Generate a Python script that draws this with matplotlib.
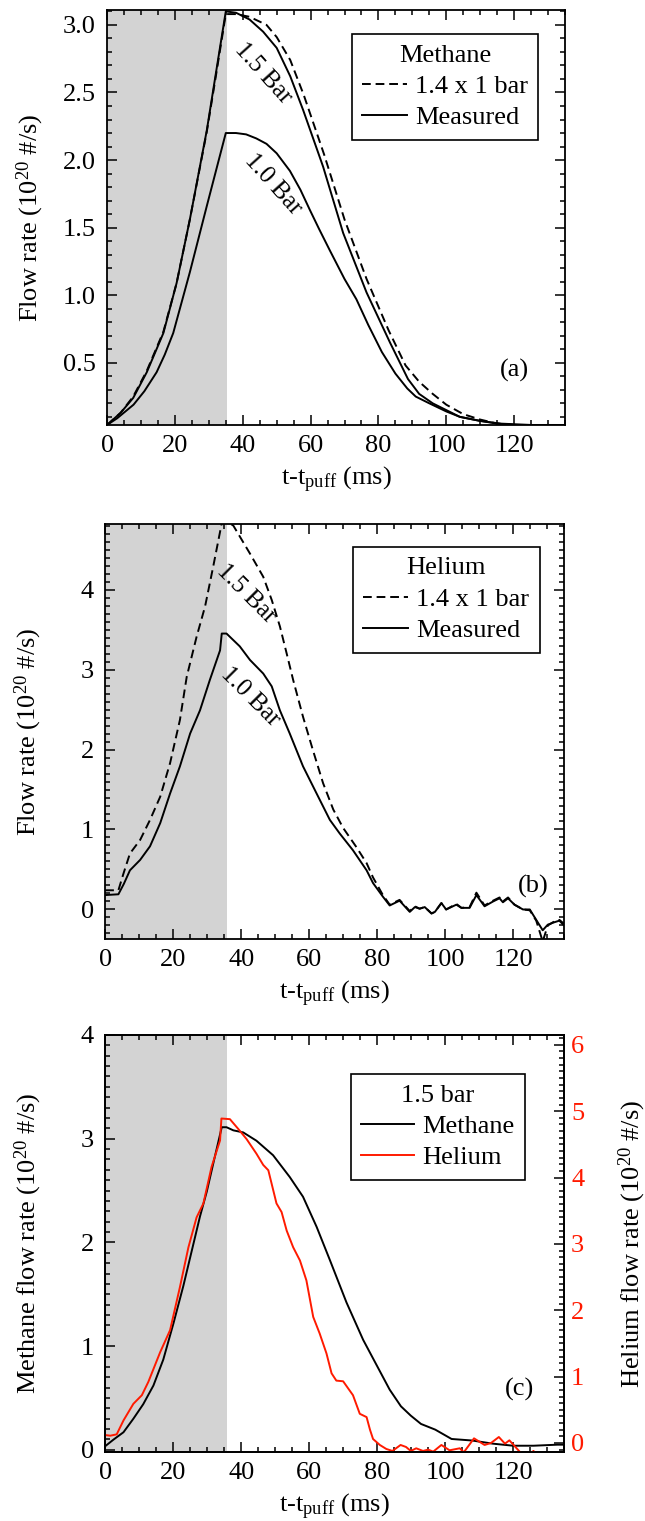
import matplotlib.pyplot as plt
from matplotlib.lines import Line2D
from matplotlib.ticker import MultipleLocator

plt.rcParams['font.family'] = ['Liberation Serif', 'DejaVu Serif']
plt.rcParams['mathtext.fontset'] = 'custom'
plt.rcParams['mathtext.rm'] = 'Liberation Serif'
plt.rcParams['mathtext.it'] = 'Liberation Serif:italic'
plt.rcParams['font.size'] = 19

# (a) methane, flow rate in 1e20 #/s
ch4_t_15 = [0, 4, 7.7, 11.7, 16.6, 20.5, 24.4, 29.4, 32, 35, 38, 42, 46, 50, 54, 57.8, 63.7,
            69.6, 76.5, 83.4, 88.7, 92, 96, 100, 104, 110, 115, 120, 127, 135]
ch4_v_15 = [0.04, 0.13, 0.24, 0.43, 0.72, 1.09, 1.56, 2.22, 2.63, 3.10, 3.09, 3.04, 2.95, 2.83,
            2.62, 2.37, 1.95, 1.46, 1.02, 0.65, 0.38, 0.27, 0.20, 0.15, 0.10, 0.07, 0.05, 0.04,
            0.04, 0.04]
ch4_t_14 = [0, 4, 7.7, 11.7, 16.6, 20.5, 24.4, 29.4, 32, 35, 38, 42, 47, 50, 54, 58, 64, 70,
            76.5, 83, 88, 92, 96, 100, 105, 110, 115, 120, 127, 135]
ch4_v_14 = [0.04, 0.13, 0.25, 0.44, 0.73, 1.09, 1.56, 2.21, 2.61, 3.08, 3.08, 3.06, 3.00, 2.91,
            2.74, 2.48, 2.04, 1.56, 1.12, 0.74, 0.48, 0.36, 0.27, 0.19, 0.12, 0.08, 0.05, 0.04,
            0.04, 0.04]
ch4_t_10 = [0, 3, 7.8, 11, 14.6, 17, 19.5, 24.4, 29.4, 35, 38, 41, 44, 47, 50, 53.9, 57, 59.8,
            62.5, 65.7, 70, 73.5, 77, 81, 85, 88.5, 91, 95, 100, 104, 110, 116, 125, 135]
ch4_v_10 = [0.04, 0.09, 0.19, 0.29, 0.43, 0.56, 0.72, 1.17, 1.66, 2.20, 2.20, 2.19, 2.16, 2.12,
            2.05, 1.92, 1.78, 1.63, 1.49, 1.33, 1.12, 0.97, 0.78, 0.58, 0.42, 0.31, 0.25, 0.20,
            0.14, 0.10, 0.07, 0.05, 0.04, 0.04]

# (b) helium
he_t_10 = [0, 3.9, 5.5, 7.3, 10.3, 13.2, 16.2, 19.1, 22, 25, 27.9, 30.8, 33.8, 34.3, 35.7, 39.6,
           42.6, 46.5, 49, 51.4, 54.3, 58.2, 62.2, 66.1, 69, 72.9, 76.9, 78.8, 81.7, 83.7, 86.6,
           89.6, 91.1, 92.5, 94, 96, 97, 98.9, 100.3, 103.3, 104.8, 107.2, 109.2, 111.6, 114.1,
           116, 117, 118.5, 120.4, 122.9, 124.9, 126.8, 128.7, 130.2, 132.1, 133.6, 135]
he_v_10 = [0.18, 0.19, 0.32, 0.49, 0.62, 0.79, 1.08, 1.45, 1.79, 2.20, 2.49, 2.87, 3.24, 3.45,
           3.45, 3.29, 3.12, 2.95, 2.79, 2.49, 2.20, 1.79, 1.45, 1.12, 0.95, 0.74, 0.49, 0.33,
           0.16, 0.05, 0.11, -0.03, 0.03, 0.01, 0.03, -0.05, -0.03, 0.08, 0.00, 0.06, 0.02, 0.02,
           0.18, 0.04, 0.10, 0.14, 0.09, 0.14, 0.06, 0.00, 0.00, -0.13, -0.26, -0.19, -0.16,
           -0.14, -0.20]
he_t_14 = [0, 3.9, 5.4, 7.3, 10.3, 13.2, 16.2, 19.1, 22, 24, 26.9, 29.4, 31.8, 34.3, 35.5, 37.7,
           42.6, 46.5, 49, 51.4, 53.4, 55.3, 58.2, 61.2, 64.1, 67.1, 70, 73.9, 76.9, 78.8, 81.7,
           83.7, 86.6, 89.6, 91.1, 92.5, 94, 96, 97, 98.9, 100.3, 103.3, 104.8, 107.2, 109.2,
           111.6, 114.1, 116, 117, 118.5, 120.4, 122.9, 124.9, 126.8, 128.7, 130.2, 132.1, 133.6,
           135]
he_v_14 = [0.24, 0.24, 0.45, 0.70, 0.87, 1.12, 1.41, 1.83, 2.37, 2.91, 3.41, 3.79, 4.29, 4.83,
           4.86, 4.80, 4.45, 4.16, 3.87, 3.54, 3.20, 2.87, 2.41, 1.98, 1.58, 1.25, 1.02, 0.78,
           0.58, 0.40, 0.18, 0.06, 0.12, -0.02, 0.04, 0.01, 0.03, -0.05, -0.03, 0.08, 0.00, 0.07,
           0.02, 0.03, 0.21, 0.05, 0.11, 0.15, 0.10, 0.15, 0.06, 0.00, -0.01, -0.14, -0.40,
           -0.20, -0.15, -0.13, -0.18]

# (c) 1.5 bar, methane (left axis) and helium (right axis)
c_ch4_t = [0, 2.5, 5.4, 8.3, 11.2, 14.2, 17.1, 20.1, 23, 26, 27.9, 29.9, 31.8, 34.3, 35.7, 37.7,
           40.6, 44.5, 49.4, 54.3, 58.2, 62.2, 66.1, 71, 75.9, 79.8, 83.7, 87, 89.9, 92.9, 97.1,
           101.9, 108, 114, 120, 126, 133, 135]
c_ch4_v = [0.035, 0.10, 0.17, 0.30, 0.44, 0.62, 0.87, 1.22, 1.58, 1.99, 2.25, 2.49, 2.76, 3.11,
           3.11, 3.08, 3.06, 2.98, 2.84, 2.63, 2.44, 2.15, 1.83, 1.42, 1.06, 0.82, 0.58, 0.42,
           0.33, 0.25, 0.195, 0.105, 0.09, 0.06, 0.04, 0.04, 0.05, 0.05]
c_he_t = [0, 1.5, 3.4, 5.4, 8.3, 10.8, 12.7, 16.2, 19.1, 22, 24.5, 26.9, 28.9, 31.3, 33.8, 34.2,
          36.7, 39.2, 41.6, 44.5, 46.5, 48, 50.4, 51.9, 53.4, 55.3, 57.3, 59.2, 61.2, 63.1, 65.1,
          66.6, 68, 70, 72.9, 74.9, 76.9, 77.9, 78.8, 80.8, 82.7, 84.5, 86.9, 88.5, 89.9, 91.5,
          93.5, 95, 96.5, 98.9, 101.3, 104.3, 105.5, 108.5, 111.6, 113.5, 115.8, 117.6, 118.9,
          120.5, 121.9, 124, 126, 128]
c_he_v = [0.12, 0.11, 0.13, 0.34, 0.59, 0.72, 0.92, 1.37, 1.70, 2.35, 2.95, 3.40, 3.61, 4.16,
          4.56, 4.89, 4.88, 4.73, 4.58, 4.36, 4.19, 4.11, 3.61, 3.48, 3.20, 2.95, 2.75, 2.45,
          1.90, 1.65, 1.35, 1.05, 0.94, 0.93, 0.72, 0.44, 0.39, 0.20, 0.06, -0.03, -0.09, -0.12,
          -0.03, -0.06, -0.12, -0.08, -0.12, -0.10, -0.13, -0.03, -0.11, -0.08, -0.14, 0.07,
          -0.03, 0.00, 0.09, -0.01, 0.04, -0.05, -0.13, -0.20, -0.12, -0.25]

puff_end = [35.3, 35.8, 35.8]
ylims = [(0.04, 3.11), (-0.37, 4.82), (-0.02, 4.0)]
he_ylim = (-0.135, 6.15)

fig = plt.figure(figsize=(6.45, 15.21), dpi=100)
ax_a = fig.add_axes([0.166, 0.7206, 0.710, 0.2728])
ax_b = fig.add_axes([0.163, 0.3826, 0.7116, 0.2729])
ax_c = fig.add_axes([0.163, 0.0454, 0.7116, 0.2742])


def style_axes(ax, ymaj, ymin, right=True):
    ax.set_xlim(0, 135)
    ax.xaxis.set_major_locator(MultipleLocator(20))
    ax.xaxis.set_minor_locator(MultipleLocator(5))
    ax.yaxis.set_major_locator(MultipleLocator(ymaj))
    ax.yaxis.set_minor_locator(MultipleLocator(ymin))
    ax.tick_params(which='both', direction='in', top=True, right=right, width=1.1,
                   labelsize=19)
    ax.tick_params(which='major', length=7)
    ax.tick_params(which='minor', length=3.5)
    ax.tick_params(axis='x', pad=7)
    ax.tick_params(axis='y', pad=8)
    for s in ax.spines.values():
        s.set_linewidth(1.3)
    ax.set_xlabel(r't-t$_{\rm puff}$ (ms)', fontsize=19)
    ax.xaxis.label.set_va('center')
    ax.xaxis.set_label_coords(0.5, -0.133)


def add_legend(ax, handles, labels, title, anchor, hlen=1.7):
    leg = ax.legend(handles, labels, title=title, loc='upper right', bbox_to_anchor=anchor,
                    borderaxespad=0, fancybox=False, framealpha=1, edgecolor='black',
                    fontsize=19, title_fontsize=19, handlelength=hlen, handletextpad=0.3,
                    labelspacing=0.3, borderpad=0.4)
    leg.get_frame().set_linewidth(1.2)
    return leg


lw = 1.4
dash = (0, (4.5, 2.5))

# ---- (a)
ax = ax_a
ax.axvspan(0, puff_end[0], color='#d3d3d3', lw=0, zorder=0)
ax.plot(ch4_t_14, ch4_v_14, color='black', lw=lw, ls=dash)
ax.plot(ch4_t_15, ch4_v_15, color='black', lw=lw)
ax.plot(ch4_t_10, ch4_v_10, color='black', lw=lw)
ax.set_ylim(*ylims[0])
style_axes(ax, 0.5, 0.1)
ax.set_ylabel(r'Flow rate (10$^{20}$ #/s)', fontsize=19)
ax.yaxis.label.set_va('center')
ax.yaxis.set_label_coords(-0.168, 0.5)
ax.text(46, 2.645, '1.5 Bar', rotation=-48, ha='center', va='center', fontsize=18)
ax.text(49, 1.82, '1.0 Bar', rotation=-48, ha='center', va='center', fontsize=18)
ax.text(120, 0.44, '(a)', ha='center', va='center', fontsize=19)
h = [Line2D([], [], color='black', lw=lw, ls=dash), Line2D([], [], color='black', lw=lw)]
add_legend(ax, h, ['1.4 x 1 bar', 'Measured'], 'Methane', (0.942, 0.942))

# ---- (b)
ax = ax_b
ax.axvspan(0, puff_end[1], color='#d3d3d3', lw=0, zorder=0)
ax.plot(he_t_14, he_v_14, color='black', lw=lw, ls=dash)
ax.plot(he_t_10, he_v_10, color='black', lw=lw)
ax.set_ylim(*ylims[1])
style_axes(ax, 1, 0.1)
ax.set_ylabel(r'Flow rate (10$^{20}$ #/s)', fontsize=19)
ax.yaxis.label.set_va('center')
ax.yaxis.set_label_coords(-0.168, 0.5)
ax.text(41.6, 3.95, '1.5 Bar', rotation=-45, ha='center', va='center', fontsize=18)
ax.text(42.6, 2.66, '1.0 Bar', rotation=-45, ha='center', va='center', fontsize=18)
ax.text(125.8, 0.29, '(b)', ha='center', va='center', fontsize=19)
add_legend(ax, h, ['1.4 x 1 bar', 'Measured'], 'Helium', (0.947, 0.945))

# ---- (c)
ax = ax_c
ax.axvspan(0, puff_end[2], color='#d3d3d3', lw=0, zorder=0)
ax.plot(c_ch4_t, c_ch4_v, color='black', lw=lw)
ax.set_ylim(*ylims[2])
style_axes(ax, 1, 0.1, right=False)
ax.set_ylabel(r'Methane flow rate (10$^{20}$ #/s)', fontsize=19)
ax.yaxis.label.set_va('center')
ax.yaxis.set_label_coords(-0.168, 0.5)
ax.text(121.8, 0.585, '(c)', ha='center', va='center', fontsize=19)

ax2 = ax.twinx()
ax2.plot(c_he_t, c_he_v, color='#ff1a00', lw=lw)
ax2.set_ylim(*he_ylim)
ax2.yaxis.set_major_locator(MultipleLocator(1))
ax2.yaxis.set_minor_locator(MultipleLocator(0.1))
ax2.tick_params(which='both', direction='in', width=1.1, labelsize=19, labelcolor='#ff1a00',
                pad=5)
ax2.tick_params(which='major', length=7)
ax2.tick_params(which='minor', length=3.5)
for s in ax2.spines.values():
    s.set_linewidth(1.3)
ax2.set_ylabel(r'Helium flow rate (10$^{20}$ #/s)', fontsize=19, rotation=90)
ax2.yaxis.label.set_va('center')
ax2.yaxis.set_label_coords(1.148, 0.5)
hc = [Line2D([], [], color='black', lw=lw), Line2D([], [], color='#ff1a00', lw=lw)]
add_legend(ax2, hc, ['Methane', 'Helium'], '1.5 bar', (0.914, 0.906), hlen=2.0)

fig.savefig('out.png', dpi=100)
